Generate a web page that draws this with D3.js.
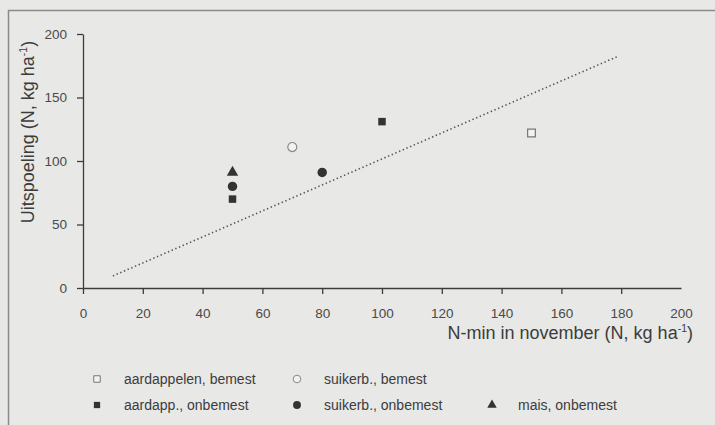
<!DOCTYPE html>
<html>
<head>
<meta charset="utf-8">
<script src="https://cdn.jsdelivr.net/npm/d3@7"></script>
<style>
  body { margin: 0; background: #e8e8e6; }
  svg { display: block; font-family: "Liberation Sans", Arial, sans-serif; }
</style>
</head>
<body>
<svg id="chart" width="715" height="425"></svg>
<script>
// data
var xTicks = [0, 20, 40, 60, 80, 100, 120, 140, 160, 180, 200];
var yTicks = [0, 50, 100, 150, 200];

var aardBemest = [[150, 122]];
var aardOnbemest = [[50, 70], [100, 131]];
var suikBemest = [[70, 111]];
var suikOnbemest = [[50, 80], [80, 91]];
var maisOnbemest = [[50, 91]];

var trendLine = [[10, 9.5], [178.5, 182]];

var legendLabels = ["aardappelen, bemest", "suikerb., bemest", "aardapp., onbemest", "suikerb., onbemest", "mais, onbemest"];

var svg = d3.select("#chart");
var ink = "#3c3c3c";

// frame of the scanned page
svg.append("path")
    .attr("d", "M8.5,425 V10.5 H715")
    .attr("fill", "none")
    .attr("stroke", "#8a8a8a")
    .attr("stroke-width", 1.5);

var x = d3.scaleLinear().domain([0, 200]).range([83, 681]);
var y = d3.scaleLinear().domain([0, 200]).range([288, 34]);

// x axis
var gx = svg.append("g")
    .attr("transform", "translate(0,288)")
    .call(d3.axisBottom(x).tickValues(xTicks).tickSize(6).tickSizeOuter(0).tickPadding(14));
gx.selectAll(".tick").filter(function(d) { return d == 200; }).select("line").remove();

// y axis
var gy = svg.append("g")
    .attr("transform", "translate(83,0)")
    .call(d3.axisLeft(y).tickValues(yTicks).tickSize(6).tickSizeOuter(0).tickPadding(10));

[gx, gy].forEach(function(g) {
  g.select(".domain").attr("stroke", ink).attr("stroke-width", 1.3);
  g.selectAll(".tick line").attr("stroke", ink).attr("stroke-width", 1.3);
  g.selectAll(".tick text").attr("fill", "#4a4a4a").attr("font-size", 13.5);
});

// axis titles
var xt = svg.append("text")
    .attr("x", 693)
    .attr("y", 339)
    .attr("text-anchor", "end")
    .attr("font-size", 18)
    .attr("fill", ink);
xt.append("tspan").text("N-min in november (N, kg ha");
xt.append("tspan").attr("font-size", 10.5).attr("dy", -7).text("-1");
xt.append("tspan").attr("dy", 7).text(")");

var yt = svg.append("text")
    .attr("transform", "translate(34,132) rotate(-90)")
    .attr("text-anchor", "middle")
    .attr("font-size", 18)
    .attr("fill", ink);
yt.append("tspan").text("Uitspoeling (N, kg ha");
yt.append("tspan").attr("font-size", 10.5).attr("dy", -7).text("-1");
yt.append("tspan").attr("dy", 7).text(")");

// dotted regression line
svg.append("path")
    .datum(trendLine)
    .attr("fill", "none")
    .attr("stroke", "#555")
    .attr("stroke-width", 1.6)
    .attr("stroke-dasharray", "1.4,2.6")
    .attr("d", d3.line().x(function(d) { return x(d[0]); }).y(function(d) { return y(d[1]); }));

// marker styles
var styles = [
  {type: d3.symbolSquare, size: 60, fill: "#f2f2f0", stroke: "#777", data: aardBemest},
  {type: d3.symbolCircle, size: 64, fill: "#f2f2f0", stroke: "#888", data: suikBemest},
  {type: d3.symbolSquare, size: 56, fill: "#333", stroke: "none", data: aardOnbemest},
  {type: d3.symbolCircle, size: 70, fill: "#333", stroke: "none", data: suikOnbemest},
  {type: d3.symbolTriangle, size: 56, fill: "#333", stroke: "none", data: maisOnbemest}
];

styles.forEach(function(s) {
  svg.append("g")
    .selectAll("path")
    .data(s.data)
    .enter().append("path")
      .attr("transform", function(d) { return "translate(" + x(d[0]) + "," + y(d[1]) + ")"; })
      .attr("d", d3.symbol().type(s.type).size(s.size))
      .attr("fill", s.fill)
      .attr("stroke", s.stroke)
      .attr("stroke-width", 1.2);
});

// legend
var legendPos = [[97, 379], [297, 379], [97, 405], [297, 405], [492, 405]];

var legend = svg.append("g")
  .selectAll("g")
  .data(styles)
  .enter().append("g")
    .attr("transform", function(d, i) { return "translate(" + legendPos[i][0] + "," + legendPos[i][1] + ")"; });

legend.append("path")
    .attr("d", function(d) { return d3.symbol().type(d.type).size(d.size * 0.7)(); })
    .attr("fill", function(d) { return d.fill; })
    .attr("stroke", function(d) { return d.stroke; })
    .attr("stroke-width", 1);

legend.append("text")
    .attr("x", function(d, i) { return i == 4 ? 26 : 27; })
    .attr("dy", "0.35em")
    .attr("font-size", 14)
    .attr("fill", ink)
    .text(function(d, i) { return legendLabels[i]; });
</script>
</body>
</html>
